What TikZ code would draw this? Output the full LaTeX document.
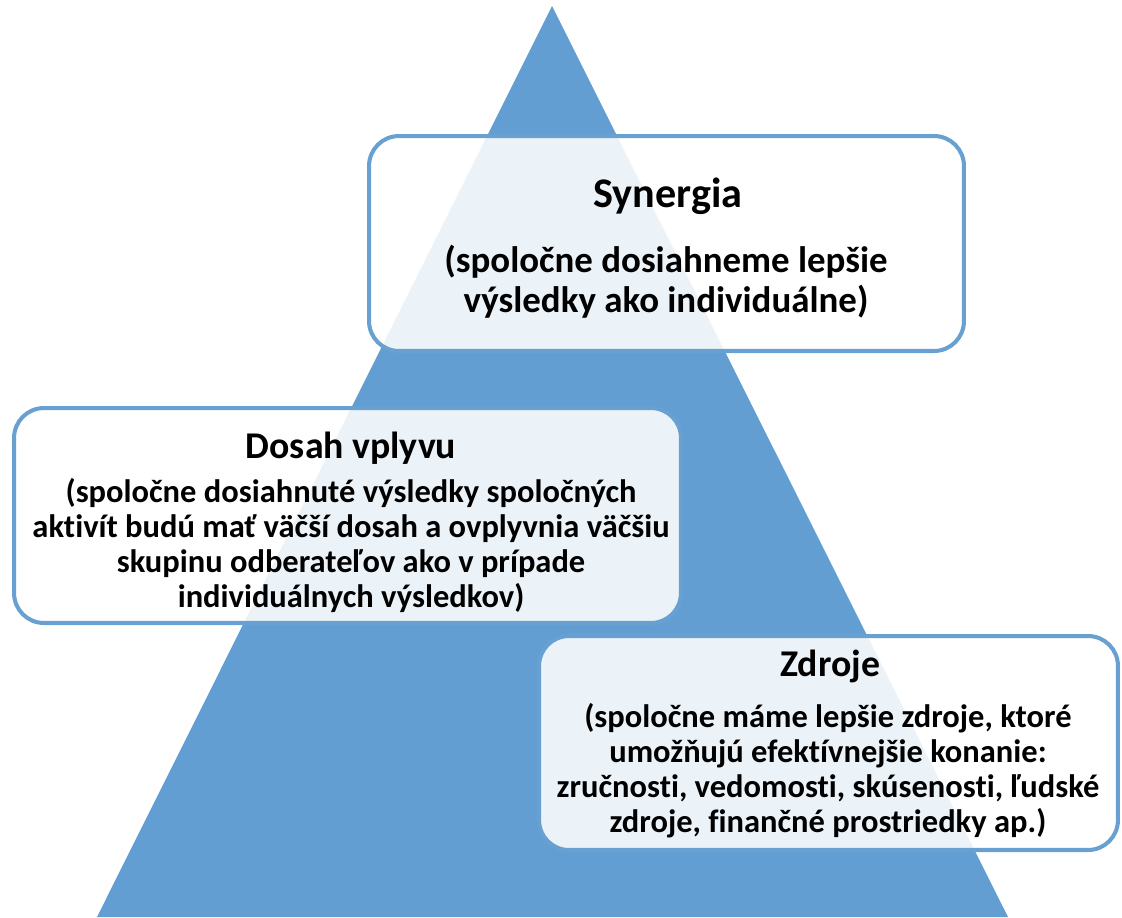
\documentclass[tikz,border=0pt]{standalone}
\usepackage{fontspec}
\setmainfont{Carlito}[Ligatures=NoCommon]
\usepackage{tikz}
\definecolor{pyr}{RGB}{98,158,210}
\definecolor{rim}{RGB}{104,160,210}
\tikzset{
  box/.style={draw=rim, line width=2.3pt, rounded corners=17pt, fill=white, fill opacity=0.88, inner sep=0pt},
  ttl/.style={font=\bfseries\fontsize{24}{28}\selectfont, inner sep=0pt},
  subttl/.style={ttl, font=\bfseries\fontsize{21.5}{26}\selectfont},
  txt/.style={font=\bfseries\fontsize{18.5}{19.8}\selectfont, align=center, inner sep=0pt},
  bigtxt/.style={txt, font=\bfseries\fontsize{21}{22.7}\selectfont}
}
\begin{document}
\begin{tikzpicture}[x=0.02cm,y=-0.02cm]
\useasboundingbox (0,0) rectangle (1122,917);
% pyramida
\coordinate (top) at (552,6);
\coordinate (bl) at (97,917);
\coordinate (br) at (1008,917);
\fill[pyr] (top) -- (bl) -- (br) -- cycle;
% ramiky
\node[box, minimum width=11.9cm, minimum height=4.3cm] (syn) at (666.5,243.5) {};
\node[box, minimum width=13.34cm, minimum height=4.3cm] (dos) at (347.5,515.5) {};
\node[box, minimum width=11.58cm, minimum height=4.28cm] (zdr) at (828.5,743) {};
% texty (base = posledny riadok)
\node[ttl, anchor=base] (synT) at (668,207) {Synergia};
\node[bigtxt, anchor=base] (synD) at (666,312) {(spoločne dosiahneme lepšie\\výsledky ako individuálne)};
\node[subttl, anchor=base] (dosT) at (351,458) {Dosah vplyvu};
\node[txt, anchor=base] (dosD) at (351,607) {(spoločne dosiahnuté výsledky spoločných\\aktivít budú mať väčší dosah a ovplyvnia väčšiu\\skupinu odberateľov ako v prípade\\individuálnych výsledkov)};
\node[subttl, anchor=base] (zdrT) at (830,676) {Zdroje};
\node[txt, anchor=base] (zdrD) at (828,832) {(spoločne máme lepšie zdroje, ktoré\\umožňujú efektívnejšie konanie:\\zručnosti, vedomosti, skúsenosti, ľudské\\zdroje, finančné prostriedky ap.)};
\end{tikzpicture}
\end{document}
